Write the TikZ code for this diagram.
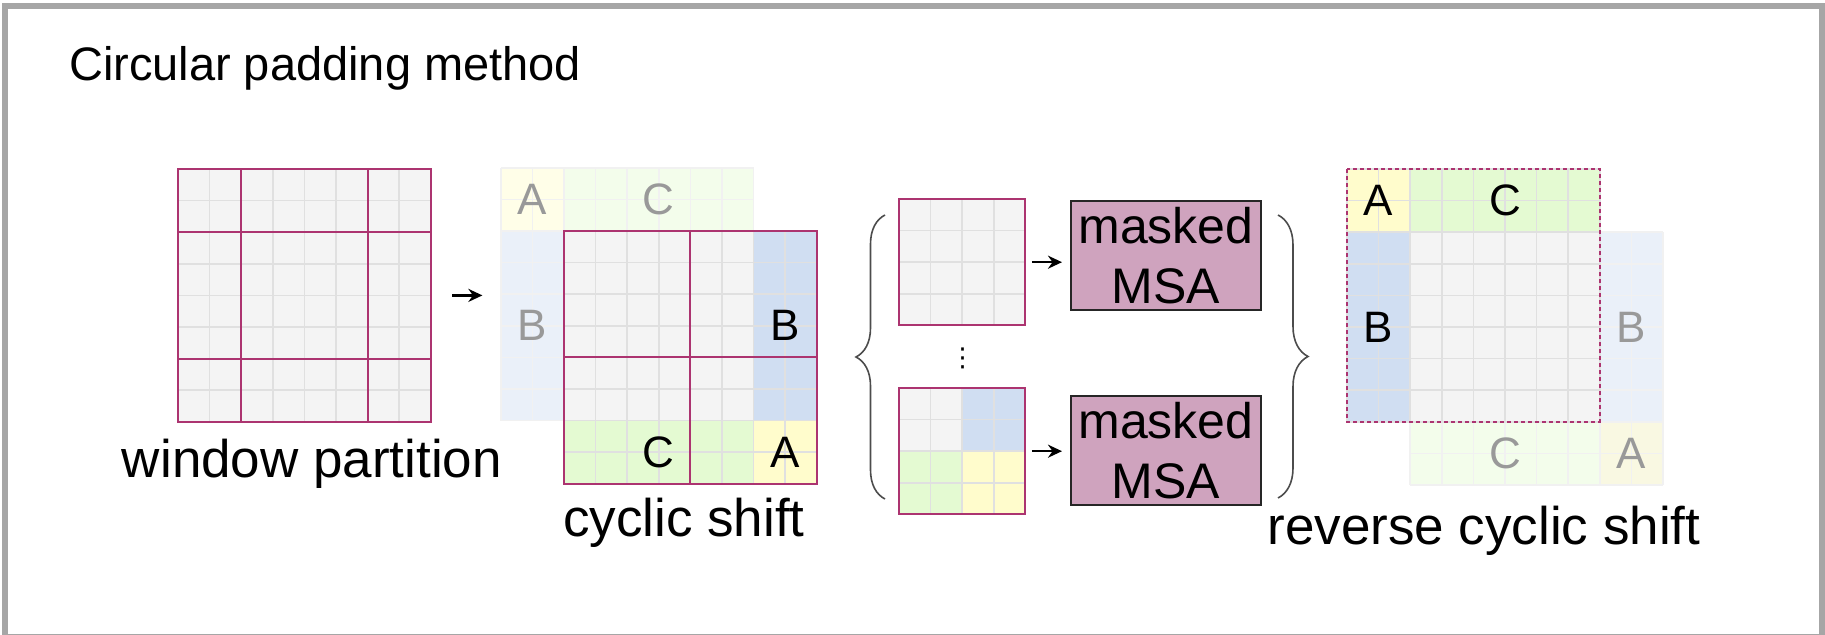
\documentclass[tikz,border=0pt]{standalone}
\usepackage{fontspec}
\setmainfont{Liberation Sans}
\newfontfamily\dotsfont{DejaVu Sans}
\usetikzlibrary{arrows.meta,decorations.pathreplacing}

\definecolor{framegray}{RGB}{166,166,166}
\definecolor{cellgray}{RGB}{244,244,244}
\definecolor{cellline}{RGB}{224,224,224}
\definecolor{winred}{RGB}{172,52,112}
\definecolor{shiftblue}{RGB}{208,222,242}
\definecolor{shiftgreen}{RGB}{228,250,210}
\definecolor{shiftyellow}{RGB}{255,252,204}
\definecolor{msapink}{RGB}{207,163,190}

% cell lines of a block, in cell units
\newcommand\cellgrid[5][cellrule]{%
	\foreach \gx in {#2,...,#4} \draw[#1] (\gx,#3) -- (\gx,#5);
	\foreach \gy in {#3,...,#5} \draw[#1] (#2,\gy) -- (#4,\gy);}

\begin{document}
\begin{tikzpicture}[x=0.5pt,y=-0.5pt]
	\tikzset{cellrule/.style = {draw=cellline, line width=0.8pt},
		fadedrule/.style = {draw=cellline!45, line width=0.8pt},
		winrule/.style = {draw=winred, line width=1pt},
		gridbox/.style = {inner sep=0, minimum size=#1*15.8pt},
		letter/.style = {font=\fontsize{22}{26}\selectfont},
		fadedletter/.style = {letter, text=black!40},
		caption/.style = {anchor=base, font=\fontsize{26.5}{32}\selectfont},
		msabox/.style = {draw=black!85, fill=msapink, line width=1pt,
			minimum width=95pt, minimum height=54.5pt, inner sep=0,
			align=center, font=\fontsize{25}{30}\selectfont},
		arr/.style = {-{Stealth[length=7pt,width=6.5pt]}, line width=1.2pt},
		curly/.style = {draw=black!70, line width=0.8pt, decorate,
			decoration={brace,amplitude=#1}}}

\useasboundingbox (0,0) rectangle (1825,635);
\draw[draw=framegray, line width=3pt] (4.5,6.3) rectangle (1822,637);

\node[anchor=base west, font=\fontsize{23.5}{28}\selectfont] (title) at (62,81) {Circular padding method};

% window partition
\begin{scope}[shift={(178,169)}, x=15.8pt, y=-15.8pt]
	\fill[cellgray] (0,0) rectangle (8,8);
	\cellgrid{0}{0}{8}{8}
	\draw[winrule] (0,0) rectangle (8,8) (2,0) -- (2,8) (6,0) -- (6,8) (0,2) -- (8,2) (0,6) -- (8,6);
	\node[gridbox=8] (win) at (4,4) {};
\end{scope}
\node[caption] (winlbl) at (312,478) {window partition};

% cyclic shift
\begin{scope}[shift={(564,231)}, x=15.8pt, y=-15.8pt]
	\fill[shiftyellow!45] (-2,-2) rectangle (0,0);
	\fill[shiftgreen!45] (0,-2) rectangle (6,0);
	\fill[shiftblue!45] (-2,0) rectangle (0,6);
	\cellgrid[fadedrule]{-2}{-2}{6}{0}
	\cellgrid[fadedrule]{-2}{0}{0}{6}
	\node[fadedletter] (fa) at (-1,-1) {A};
	\node[fadedletter] (fc) at (3,-1) {C};
	\node[fadedletter] (fb) at (-1,3) {B};
	\fill[cellgray] (0,0) rectangle (8,8);
	\fill[shiftblue] (6,0) rectangle (8,6);
	\fill[shiftgreen] (0,6) rectangle (6,8);
	\fill[shiftyellow] (6,6) rectangle (8,8);
	\cellgrid{0}{0}{8}{8}
	\draw[winrule] (0,0) rectangle (8,8) (4,0) -- (4,8) (0,4) -- (8,4);
	\node[letter] (sb) at (7,3) {B};
	\node[letter] (sc) at (3,7) {C};
	\node[letter] (sa) at (7,7) {A};
	\node[gridbox=8] (shift) at (4,4) {};
	\node[gridbox=10] (shiftall) at (3,3) {};
\end{scope}
\node[caption] (shiftlbl) at (684,537) {cyclic shift};
\draw[arr, shorten <=10.5pt, shorten >=9pt] (win.east) -- (win.east -| shiftall.west);

% windows and attention
\begin{scope}[shift={(899,199)}, x=15.8pt, y=-15.8pt]
	\fill[cellgray] (0,0) rectangle (4,4);
	\cellgrid{0}{0}{4}{4}
	\draw[winrule] (0,0) rectangle (4,4);
	\node[gridbox=4] (wa) at (2,2) {};
\end{scope}
\begin{scope}[shift={(899,388)}, x=15.8pt, y=-15.8pt]
	\fill[cellgray] (0,0) rectangle (2,2);
	\fill[shiftblue] (2,0) rectangle (4,2);
	\fill[shiftgreen] (0,2) rectangle (2,4);
	\fill[shiftyellow] (2,2) rectangle (4,4);
	\cellgrid{0}{0}{4}{4}
	\draw[winrule] (0,0) rectangle (4,4);
	\node[gridbox=4] (wb) at (2,2) {};
\end{scope}
\node[inner sep=0, font=\dotsfont\fontsize{13}{15}\selectfont] (dots) at (962.5,358) {⋮};
\node[msabox] (msaa) at (1166,256) {masked\\MSA};
\node[msabox] (msab) at (1166,451) {masked\\MSA};
\draw[arr, shorten <=3pt, shorten >=4pt] (wa.east) -- (wa.east -| msaa.west);
\draw[arr, shorten <=3pt, shorten >=4pt] (wb.east) -- (wb.east -| msab.west);
\draw[curly=14.5pt] (885,499) -- (885,215);
\draw[curly=15pt] (1278,215) -- (1278,498);

% reverse cyclic shift
\begin{scope}[shift={(1347,169)}, x=15.8pt, y=-15.8pt]
	\fill[shiftblue!45] (8,2) rectangle (10,8);
	\fill[shiftgreen!45] (2,8) rectangle (8,10);
	\fill[shiftyellow!45!cellgray] (8,8) rectangle (10,10);
	\cellgrid[fadedrule]{8}{2}{10}{10}
	\cellgrid[fadedrule]{2}{8}{8}{10}
	\node[fadedletter] (rfb) at (9,5) {B};
	\node[fadedletter] (rfc) at (5,9) {C};
	\node[fadedletter] (rfa) at (9,9) {A};
	\fill[cellgray] (0,0) rectangle (8,8);
	\fill[shiftyellow] (0,0) rectangle (2,2);
	\fill[shiftgreen] (2,0) rectangle (8,2);
	\fill[shiftblue] (0,2) rectangle (2,8);
	\cellgrid{0}{0}{8}{8}
	\draw[winrule, dash pattern=on 2pt off 1.5pt] (0,0) rectangle (8,8);
	\node[letter] (ra) at (1,1) {A};
	\node[letter] (rc) at (5,1) {C};
	\node[letter] (rb) at (1,5) {B};
	\node[gridbox=8] (rev) at (4,4) {};
\end{scope}
\node[caption] (revlbl) at (1484,545) {reverse cyclic shift};

\end{tikzpicture}
\end{document}
